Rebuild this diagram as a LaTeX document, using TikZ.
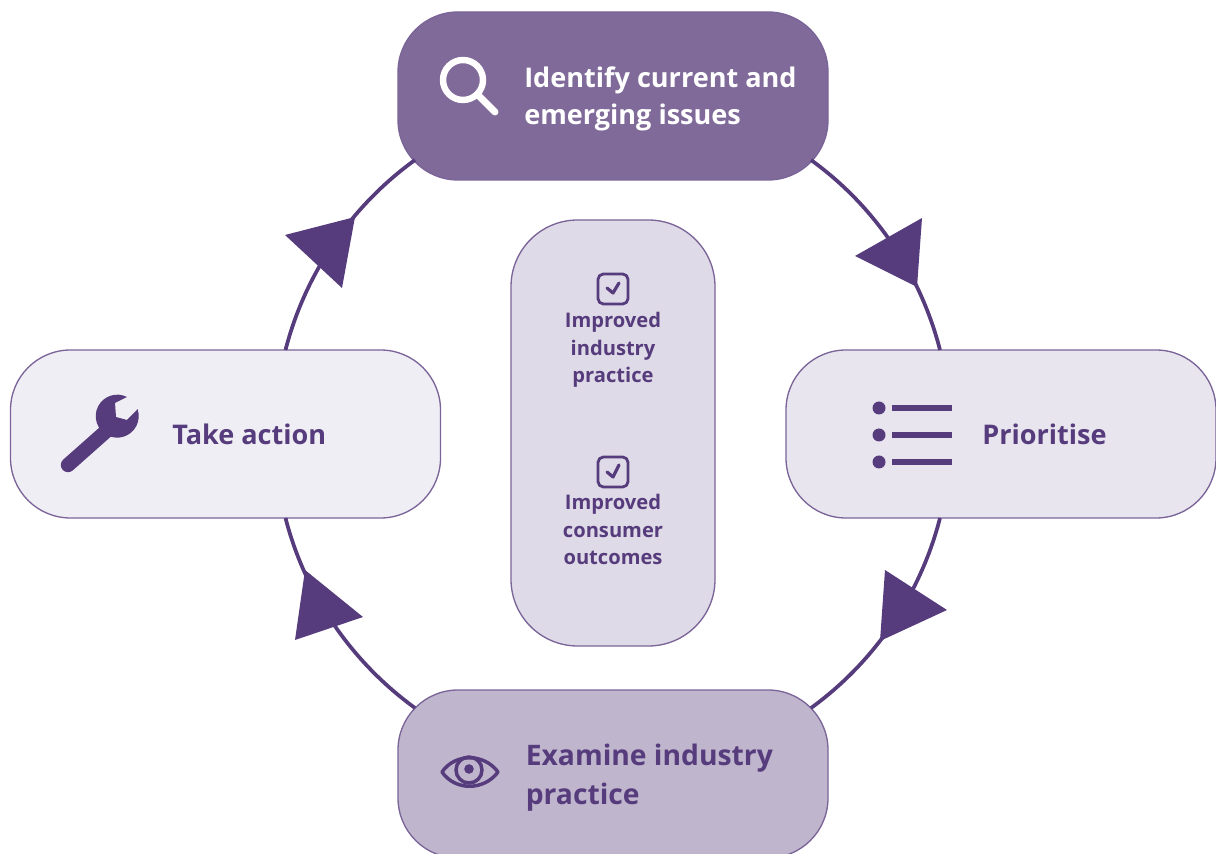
\documentclass[tikz,border=0pt]{standalone}
\usepackage{fontspec}
\setmainfont{Open Sans}
\definecolor{dk}{HTML}{563C7C}
\definecolor{edge}{HTML}{7A6498}
\definecolor{ftop}{HTML}{806A99}
\definecolor{fleft}{HTML}{F0EEF5}
\definecolor{fright}{HTML}{E8E5EF}
\definecolor{fbot}{HTML}{BFB5CD}
\definecolor{fmid}{HTML}{DFDAE7}
\tikzset{
  x=0.75pt,y=0.75pt,
  stage/.style={draw=edge,line width=1pt,rounded corners=45pt,inner sep=0pt,outer sep=0pt,minimum width=322.5pt,minimum height=126pt},
  big/.style={font=\fontsize{20.3}{27.8}\selectfont\bfseries,align=left,anchor=west,inner sep=0pt,text=dk},
  bigger/.style={font=\fontsize{21.2}{29.2}\selectfont\bfseries,align=left,anchor=west,inner sep=0pt,text=dk},
  small/.style={font=\fontsize{15.1}{20.6}\selectfont\bfseries,align=center,anchor=north,inner sep=0pt,text=dk},
  link/.style={draw=dk,line width=2.8pt,looseness=0.878},
  head/.style={fill=dk,draw=none},
  ink/.style={draw=dk,line cap=round,line join=round},
}
\begin{document}
\begin{tikzpicture}
\clip (0,0) rectangle (1216,853);
\node[stage,fill=ftop] (identify) at (613,757) {};
\node[stage,fill=fleft] (action) at (225.5,419) {};
\node[stage,fill=fright] (prioritise) at (1001,419) {};
\node[stage,fill=fbot] (examine) at (613,79) {};
\node[stage,fill=fmid,minimum width=153pt,minimum height=319.5pt,rounded corners=50pt] (outcomes) at (613,420) {};
% connector ends on the node borders
\path (identify.south east) ++(-17,20) coordinate (a1);
\path (prioritise.north west) ++(154,0) coordinate (a2);
\path (prioritise.south west) ++(154,0) coordinate (b1);
\path (examine.north east) ++(-17,-18) coordinate (b2);
\path (examine.north west) ++(17,-18) coordinate (c1);
\path (action.south west) ++(275,0) coordinate (c2);
\path (action.north west) ++(275,0) coordinate (d1);
\path (identify.south west) ++(17,20) coordinate (d2);
\draw[link] (a1) to[out=-35.9,in=104.4] (a2);
\draw[link] (b1) to[out=-104.4,in=36] (b2);
\draw[link] (c1) to[out=144,in=284.4] (c2);
\draw[link] (d1) to[out=75.6,in=215.8] (d2);
% arrowheads
\fill[head] (922,635) -- (855,597) -- (917,566) -- cycle;
\fill[head] (885,283) -- (947,243) -- (880,212) -- cycle;
\fill[head] (305,283) -- (363,236) -- (295,213) -- cycle;
\fill[head] (355,636) -- (285,618) -- (342,565) -- cycle;
% labels
\node[big,text=white] (t1) at (524,754.5) {Identify current and\\emerging issues};
\node[big] (t2) at (172,419) {Take action};
\node[big] (t3) at (982,419) {Prioritise};
\node[bigger] (t4) at (525.5,75) {Examine industry\\practice};
\node[small] (t5) at (613,541) {Improved\\industry\\practice};
\node[small] (t6) at (613,359) {Improved\\consumer\\outcomes};
% magnifier
\draw[white,line width=4.8pt] (463,773) circle (20);
\draw[white,line width=5.2pt,line cap=round] (478,758) -- (495,741);
% wrench
\draw[dk,line width=10.8pt,line cap=round] (68,388) -- (112,427);
\fill[dk] (127,456) arc[start angle=63,end angle=379,radius=21.5] -- (127,433) -- (116,436) -- (115,450) -- cycle;
% list
\foreach \yy in {445,418,391}{
  \fill[dk] (879,\yy) circle (6.5);
  \fill[dk] (892,\yy-3) rectangle (952,\yy+3);
}
% eye
\draw[ink,line width=2.6pt] (442,81) .. controls (455,100) and (484,100) .. (498,81) .. controls (484,62) and (455,62) .. (442,81) -- cycle;
\draw[dk,line width=2.6pt] (469,83) circle (13);
\fill[dk] (469,84) circle (4.8);
% check boxes
\draw[ink,line width=2.1pt,rounded corners=4pt] (598,549) rectangle (628,579);
\draw[ink,line width=2.4pt] (607,565) -- (613,560) -- (619,570);
\draw[ink,line width=2.1pt,rounded corners=4pt] (598,366) rectangle (628,396);
\draw[ink,line width=2.4pt] (607,381) -- (613,376) -- (619,388);
\end{tikzpicture}
\end{document}
